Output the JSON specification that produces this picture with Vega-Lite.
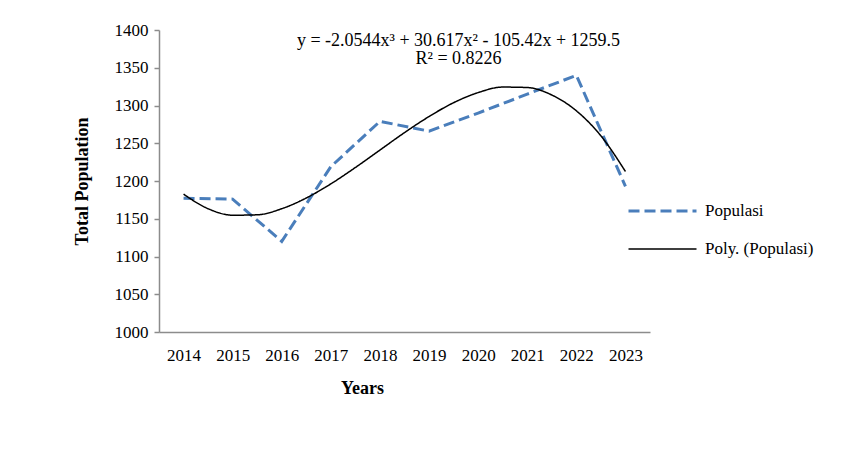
{
  "$schema": "https://vega.github.io/schema/vega-lite/v6.json",
  "autosize": {"type": "none"},
  "padding": {"left": 159, "top": 30, "right": 214, "bottom": 119},
  "width": 491,
  "height": 302,
  "background": "white",
  "config": {
    "view": {"stroke": null},
    "font": "Liberation Serif",
    "axis": {"labelFont": "Liberation Serif", "titleFont": "Liberation Serif", "labelColor": "#000", "titleColor": "#000", "grid": false, "domainColor": "#8c8c8c", "tickColor": "#8c8c8c", "domainWidth": 1.5, "tickWidth": 1.5},
    "axisX": {"values": [2014, 2015, 2016, 2017, 2018, 2019, 2020, 2021, 2022, 2023], "format": "d", "ticks": false, "labelFontSize": 17, "labelPadding": 15, "labelOverlap": false, "titleFontSize": 18, "titleFontWeight": "bold", "titleX": 203, "titleY": 56, "titleBaseline": "middle", "labelFlush": false},
    "axisY": {"values": [1000, 1050, 1100, 1150, 1200, 1250, 1300, 1350, 1400], "format": "d", "tickSize": 5, "labelFontSize": 17, "labelPadding": 6, "labelOverlap": false, "titleFontSize": 18, "titleFontWeight": "bold", "titlePadding": 23},
    "legend": {"labelFont": "Liberation Serif", "labelColor": "#000"}
  },
  "datasets": {
    "pop": [
      {"year": 2014, "value": 1177, "series": "Populasi"},
      {"year": 2015, "value": 1176, "series": "Populasi"},
      {"year": 2016, "value": 1120, "series": "Populasi"},
      {"year": 2017, "value": 1219, "series": "Populasi"},
      {"year": 2018, "value": 1279, "series": "Populasi"},
      {"year": 2019, "value": 1266, "series": "Populasi"},
      {"year": 2020, "value": 1290, "series": "Populasi"},
      {"year": 2021, "value": 1315, "series": "Populasi"},
      {"year": 2022, "value": 1340, "series": "Populasi"},
      {"year": 2023, "value": 1193, "series": "Populasi"}
    ],
    "trend": [
      {"year": 2014, "value": 1182.6, "series": "Poly. (Populasi)"},
      {"year": 2014.5, "value": 1163.3, "series": "Poly. (Populasi)"},
      {"year": 2015, "value": 1154.7, "series": "Poly. (Populasi)"},
      {"year": 2015.5, "value": 1155.2, "series": "Poly. (Populasi)"},
      {"year": 2016, "value": 1163.3, "series": "Poly. (Populasi)"},
      {"year": 2016.5, "value": 1177.5, "series": "Poly. (Populasi)"},
      {"year": 2017, "value": 1196.2, "series": "Poly. (Populasi)"},
      {"year": 2017.5, "value": 1217.9, "series": "Poly. (Populasi)"},
      {"year": 2018, "value": 1241.0, "series": "Poly. (Populasi)"},
      {"year": 2018.5, "value": 1264.1, "series": "Poly. (Populasi)"},
      {"year": 2019, "value": 1285.4, "series": "Poly. (Populasi)"},
      {"year": 2019.5, "value": 1303.7, "series": "Poly. (Populasi)"},
      {"year": 2020, "value": 1317.1, "series": "Poly. (Populasi)"},
      {"year": 2020.5, "value": 1324.4, "series": "Poly. (Populasi)"},
      {"year": 2021, "value": 1323.8, "series": "Poly. (Populasi)"},
      {"year": 2021.5, "value": 1313.9, "series": "Poly. (Populasi)"},
      {"year": 2022, "value": 1293.0, "series": "Poly. (Populasi)"},
      {"year": 2022.5, "value": 1259.8, "series": "Poly. (Populasi)"},
      {"year": 2023, "value": 1212.6, "series": "Poly. (Populasi)"}
    ],
    "eq": [
      {"label": "y = -2.0544x³ + 30.617x² - 105.42x + 1259.5", "value": 1386},
      {"label": "R² = 0.8226", "value": 1361}
    ]
  },
  "layer": [
    {
      "data": {"name": "pop"},
      "mark": {"type": "line"},
      "encoding": {
        "x": {"field": "year", "type": "quantitative", "scale": {"domain": [2013.5, 2023.5], "nice": false, "zero": false}, "axis": {"title": "Years"}},
        "y": {"field": "value", "type": "quantitative", "scale": {"domain": [1000, 1400], "nice": false, "zero": false}, "axis": {"title": "Total Population"}},
        "color": {"field": "series", "type": "nominal", "scale": {"domain": ["Populasi", "Poly. (Populasi)"], "range": ["#4A7EBB", "#000000"]}, "legend": {"orient": "none", "legendX": 468, "legendY": 162, "title": null, "symbolType": "stroke", "symbolSize": 4624, "labelFontSize": 17, "labelOffset": 7, "rowPadding": 0, "clipHeight": 38, "padding": 0}},
        "strokeDash": {"field": "series", "type": "nominal", "scale": {"domain": ["Populasi", "Poly. (Populasi)"], "range": [[11, 5], [1, 0]]}},
        "strokeWidth": {"field": "series", "type": "nominal", "scale": {"domain": ["Populasi", "Poly. (Populasi)"], "range": [3, 1.5]}}
      }
    },
    {
      "data": {"name": "trend"},
      "mark": {"type": "line", "interpolate": "monotone"},
      "encoding": {
        "x": {"field": "year", "type": "quantitative", "axis": {"title": "Years"}},
        "y": {"field": "value", "type": "quantitative", "axis": {"title": "Total Population"}},
        "color": {"field": "series", "type": "nominal"},
        "strokeDash": {"field": "series", "type": "nominal"},
        "strokeWidth": {"field": "series", "type": "nominal"}
      }
    },
    {
      "data": {"name": "eq"},
      "mark": {"type": "text", "fontSize": 18, "font": "Liberation Serif", "color": "#000", "align": "center", "baseline": "middle"},
      "encoding": {
        "x": {"datum": 2019.6, "type": "quantitative", "axis": {"title": "Years"}},
        "y": {"field": "value", "type": "quantitative", "axis": {"title": "Total Population"}},
        "text": {"field": "label", "type": "nominal"}
      }
    }
  ]
}
